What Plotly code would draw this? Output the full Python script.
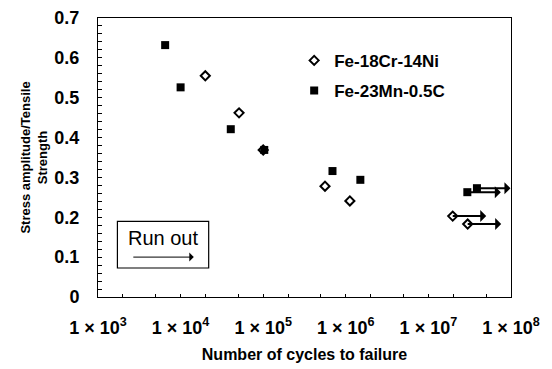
import math
import plotly.graph_objects as go

# Data
cr_ni_cycles = [1.99e4, 5.1e4, 1.0e5, 5.6e5, 1.12e6, 1.97e7, 2.99e7]
cr_ni_ratio = [0.555, 0.462, 0.369, 0.278, 0.241, 0.203, 0.183]
cr_ni_runout = [False, False, False, False, False, True, True]

mn_cycles = [6.5e3, 1.0e4, 4.05e4, 1.03e5, 6.9e5, 1.5e6, 2.96e7, 3.87e7]
mn_ratio = [0.632, 0.526, 0.421, 0.369, 0.316, 0.294, 0.263, 0.273]
mn_runout = [False, False, False, False, False, False, True, True]

x_tickvals = [1e3, 1e4, 1e5, 1e6, 1e7, 1e8]
x_ticktext = ["1 × 10<sup>3</sup>", "1 × 10<sup>4</sup>", "1 × 10<sup>5</sup>",
              "1 × 10<sup>6</sup>", "1 × 10<sup>7</sup>", "1 × 10<sup>8</sup>"]
y_tickvals = [0, 0.1, 0.2, 0.3, 0.4, 0.5, 0.6, 0.7]
y_ticktext = ["0", "0.1", "0.2", "0.3", "0.4", "0.5", "0.6", "0.7"]

FONT = "Arial, Liberation Sans, sans-serif"

fig = go.Figure()
fig.add_trace(go.Scatter(
    x=cr_ni_cycles, y=cr_ni_ratio, mode="markers", name="Fe-18Cr-14Ni",
    legendgroup="a",
    marker=dict(symbol="diamond-open", size=7, color="black", line=dict(width=2, color="black")),
))
fig.add_trace(go.Scatter(
    x=mn_cycles, y=mn_ratio, mode="markers", name="Fe-23Mn-0.5C",
    legendgroup="b",
    marker=dict(symbol="square", size=8, color="black"),
))

ARROW_PX = 35
for xs, ys, ro in [(cr_ni_cycles, cr_ni_ratio, cr_ni_runout), (mn_cycles, mn_ratio, mn_runout)]:
    for x, y, r in zip(xs, ys, ro):
        if r:
            fig.add_annotation(
                x=math.log10(x), y=y, xref="x", yref="y", text="",
                showarrow=True, ax=ARROW_PX, ay=0, arrowside="start",
                arrowhead=1, arrowsize=1.3, arrowwidth=2, arrowcolor="black", standoff=0,
            )

# Run out box
fig.add_shape(type="rect", xref="paper", yref="paper", x0=0.047, x1=0.268, y0=0.104, y1=0.271,
              line=dict(color="black", width=1.2), fillcolor="white")
fig.add_annotation(xref="paper", yref="paper", x=0.157, y=0.213, xanchor="center", yanchor="middle",
                   text="Run out", showarrow=False,
                   font=dict(family=FONT, size=20, color="black"))
fig.add_annotation(xref="paper", yref="paper", x=0.232, y=0.143, ax=-62, ay=0, text="",
                   showarrow=True, arrowhead=1, arrowwidth=1, arrowsize=1.5, arrowcolor="black")

fig.update_layout(
    width=552, height=369,
    margin=dict(l=98, r=41, t=18, b=72),
    paper_bgcolor="white", plot_bgcolor="white",
    font=dict(family=FONT, color="black"),
    showlegend=True,
    legend=dict(x=0.475, y=0.911, xanchor="left", yanchor="top", bgcolor="rgba(0,0,0,0)",
                font=dict(family=FONT, size=17, color="black", weight="bold"),
                tracegroupgap=5),
    xaxis=dict(
        type="log", range=[3, 8], showgrid=False, zeroline=False, automargin=False,
        showline=True, linecolor="black", linewidth=1, mirror=True,
        tickvals=x_tickvals, ticktext=x_ticktext,
        ticks="inside", ticklen=3, tickcolor="black", ticklabelstandoff=14,
        minor=dict(ticks="inside", ticklen=3, tickcolor="black", showgrid=False),
        tickfont=dict(family=FONT, size=18, weight="bold", color="black"),
        title=dict(text="Number of cycles to failure",
                   font=dict(family=FONT, size=16, weight="bold", color="black"), standoff=12),
    ),
    yaxis=dict(
        range=[0, 0.7], showgrid=False, zeroline=False, automargin=False,
        showline=True, linecolor="black", linewidth=1, mirror=True,
        tickvals=y_tickvals, ticktext=y_ticktext,
        ticks="inside", ticklen=4, tickcolor="black", ticklabelstandoff=14,
        minor=dict(ticks="inside", ticklen=4, dtick=0.02, tickcolor="black", showgrid=False),
        tickfont=dict(family=FONT, size=18, weight="bold", color="black"),
        title=dict(text="Stress amplitude/Tensile<br>Strength",
                   font=dict(family=FONT, size=13, weight="bold", color="black"), standoff=3),
    ),
)

fig.write_html("out.html", config={"displayModeBar": False},
               post_script="document.body.style.margin='0';")
